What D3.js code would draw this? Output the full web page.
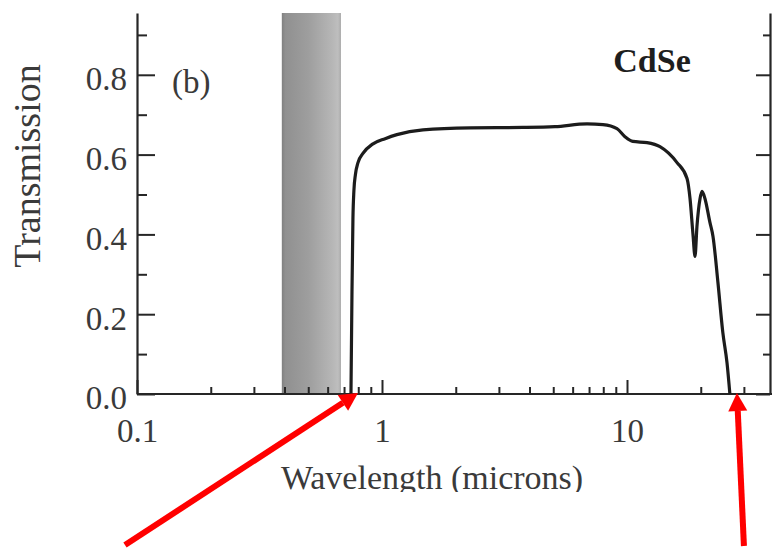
<!DOCTYPE html>
<html>
<head>
<meta charset="utf-8">
<script src="https://cdn.jsdelivr.net/npm/d3@7"></script>
<style>
  html, body { margin: 0; padding: 0; background: #fff; }
  svg { display: block; }
</style>
</head>
<body>
<svg id="chart" width="772" height="548"></svg>
<script>
// ---- data ----
const wavelength = [0.747, 0.754, 0.761, 0.768, 0.779, 0.798, 0.836, 0.919, 1.03, 1.15, 1.47, 2.29, 3.76, 5.08, 6.87, 7.98, 9.10, 9.81, 10.57, 12.07, 13.63, 16.0, 17.58, 18.08, 18.59, 18.95, 19.3, 19.87, 20.24, 20.8, 21.8, 22.44, 23.5, 24.6, 25.6, 26.3];
const transmission = [0.0, 0.25, 0.44, 0.51, 0.55, 0.58, 0.603, 0.627, 0.64, 0.65, 0.662, 0.667, 0.668, 0.670, 0.677, 0.675, 0.665, 0.645, 0.633, 0.630, 0.620, 0.580, 0.540, 0.490, 0.400, 0.345, 0.420, 0.490, 0.508, 0.490, 0.430, 0.395, 0.280, 0.155, 0.078, 0.0];
const visibleBand = [0.39, 0.68];
const xMajorTicks = [0.1, 1, 10];
const xTickLabels = ["0.1", "1", "10"];
const xMinorTicks = [0.2, 0.3, 0.4, 0.5, 0.6, 0.7, 0.8, 0.9, 2, 3, 4, 5, 6, 7, 8, 9, 20, 30];
const yMajorTicks = [0, 0.2, 0.4, 0.6, 0.8];
const yTickLabels = ["0.0", "0.2", "0.4", "0.6", "0.8"];
const yMinorTicks = [0.1, 0.3, 0.5, 0.7, 0.9];
const arrowWavelengths = [0.798, 28.1];
const xTitle = "Wavelength (microns)";
const yTitle = "Transmission";
const panelLabel = "(b)";
const materialLabel = "CdSe";

// ---- layout ----
const plotLeft = 137, plotRight = 770, plotBottom = 394, plotTop = 13;
const decadePx = 245;
const xMax = 0.1 * Math.pow(10, (plotRight - plotLeft) / decadePx);
const yMax = (plotBottom - plotTop) / 399;

const svg = d3.select("#chart");
const x = d3.scaleLog().domain([0.1, xMax]).range([plotLeft, plotRight]);
const y = d3.scaleLinear().domain([0, yMax]).range([plotBottom, plotTop]);

const serif = "'Liberation Serif', 'Times New Roman', serif";
const axisColor = "#262626";
const textColor = "#3a3a3a";

// grey band (visible region)
const defs = svg.append("defs");
const grad = defs.append("linearGradient").attr("id", "band").attr("x1", 0).attr("x2", 1).attr("y1", 0).attr("y2", 0);
[[0, "#808080"], [0.06, "#909090"], [0.45, "#9e9e9e"], [0.85, "#b6b6b6"], [0.95, "#bebebe"], [1, "#aaaaaa"]]
  .forEach(([o, c]) => grad.append("stop").attr("offset", o).attr("stop-color", c));
svg.append("rect")
  .attr("x", x(visibleBand[0])).attr("width", x(visibleBand[1]) - x(visibleBand[0]))
  .attr("y", y(yMax)).attr("height", y(0) - y(yMax))
  .attr("fill", "url(#band)");

// axes
function styleAxis(g) {
  g.select(".domain").attr("stroke", axisColor).attr("stroke-width", 2.2);
  g.selectAll(".tick line").attr("stroke", axisColor).attr("stroke-width", 2);
  g.selectAll("text").attr("fill", textColor).attr("font-family", serif);
}

// bottom axis
const gx = svg.append("g").attr("transform", `translate(0,${plotBottom})`)
  .call(d3.axisBottom(x).tickValues(xMajorTicks).tickFormat((d, i) => xTickLabels[i])
    .tickSizeInner(-14).tickSizeOuter(0).tickPadding(25));
styleAxis(gx);
gx.selectAll("text").attr("font-size", 33);
gx.select(".domain").attr("d", `M${plotLeft},0H772`);
const gxm = svg.append("g").attr("transform", `translate(0,${plotBottom})`)
  .call(d3.axisBottom(x).tickValues(xMinorTicks).tickFormat("").tickSizeInner(-7).tickSizeOuter(0));
styleAxis(gxm);
gxm.select(".domain").remove();

// left axis
const gy = svg.append("g").attr("transform", `translate(${plotLeft},0)`)
  .call(d3.axisLeft(y).tickValues(yMajorTicks).tickFormat((d, i) => yTickLabels[i])
    .tickSizeInner(-18).tickSizeOuter(0).tickPadding(10));
styleAxis(gy);
gy.selectAll("text").attr("font-size", 33).attr("dy", "0.45em");
const gym = svg.append("g").attr("transform", `translate(${plotLeft},0)`)
  .call(d3.axisLeft(y).tickValues(yMinorTicks).tickFormat("").tickSizeInner(-10).tickSizeOuter(0));
styleAxis(gym);
gym.select(".domain").remove();

// right axis
const gr = svg.append("g").attr("transform", `translate(${plotRight},0)`)
  .call(d3.axisRight(y).tickValues(yMajorTicks).tickFormat("").tickSizeInner(-14).tickSizeOuter(0));
styleAxis(gr);
const grm = svg.append("g").attr("transform", `translate(${plotRight},0)`)
  .call(d3.axisRight(y).tickValues(yMinorTicks).tickFormat("").tickSizeInner(-7).tickSizeOuter(0));
styleAxis(grm);
grm.select(".domain").remove();

// curve
const pts = wavelength.map((w, i) => [w, transmission[i]]);
svg.append("path")
  .datum(pts)
  .attr("fill", "none")
  .attr("stroke", "#1c1c1c")
  .attr("stroke-width", 3.2)
  .attr("stroke-linejoin", "round")
  .attr("d", d3.line().x(d => x(d[0])).y(d => y(d[1])).curve(d3.curveMonotoneX));

// titles
defs.append("clipPath").attr("id", "titleClip")
  .append("rect").attr("x", 0).attr("y", 0).attr("width", 772).attr("height", 492);
svg.append("text")
  .attr("x", 432).attr("y", 489)
  .attr("text-anchor", "middle")
  .attr("font-family", serif).attr("font-size", 34).attr("fill", textColor)
  .attr("clip-path", "url(#titleClip)")
  .text(xTitle);
svg.append("text")
  .attr("transform", "translate(40,166) rotate(-90)")
  .attr("text-anchor", "middle")
  .attr("font-family", serif).attr("font-size", 38).attr("fill", textColor)
  .text(yTitle);
svg.append("text")
  .attr("x", 172).attr("y", 93)
  .attr("font-family", serif).attr("font-size", 33).attr("fill", textColor)
  .text(panelLabel);
svg.append("text")
  .attr("x", 652).attr("y", 72)
  .attr("text-anchor", "middle")
  .attr("font-family", serif).attr("font-weight", "bold").attr("font-size", 34).attr("fill", "#1e1e1e")
  .text(materialLabel);

// red arrows
const tailOffsets = [[-233, 152], [7, 153]];
const headLen = 18, headHalf = 9.5;
arrowWavelengths.forEach((w, i) => {
  const tx = x(w), ty = y(0) - 1;
  const sx = tx + tailOffsets[i][0], sy = ty + tailOffsets[i][1];
  const ang = Math.atan2(ty - sy, tx - sx);
  const bx = tx - headLen * Math.cos(ang), by = ty - headLen * Math.sin(ang);
  svg.append("line")
    .attr("x1", sx).attr("y1", sy).attr("x2", bx).attr("y2", by)
    .attr("stroke", "#ff0000").attr("stroke-width", 6);
  const px = -Math.sin(ang), py = Math.cos(ang);
  svg.append("path")
    .attr("d", `M${tx},${ty}L${bx + px * headHalf},${by + py * headHalf}L${bx - px * headHalf},${by - py * headHalf}Z`)
    .attr("fill", "#ff0000");
});
</script>
</body>
</html>
